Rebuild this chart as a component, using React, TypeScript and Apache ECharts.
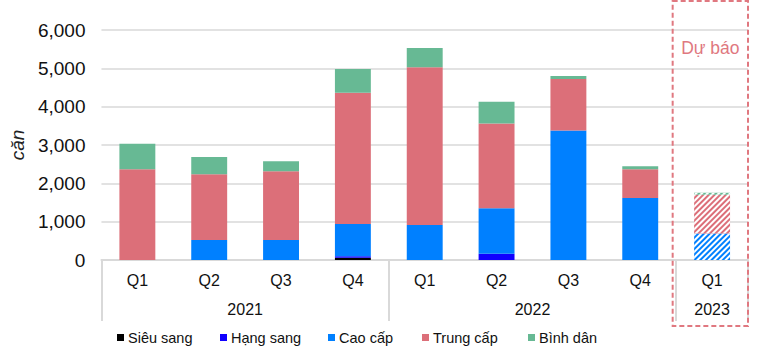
import React, { useEffect, useRef } from "react";
import * as echarts from "echarts";

const quarters = ["Q1", "Q2", "Q3", "Q4", "Q1", "Q2", "Q3", "Q4", "Q1"];
const years = ["2021", "2022", "2023"];
const yearSpans = [4, 4, 1];
const forecastIndex = 8;
const forecastLabel = "Dự báo";
const yTicks = [0, 1000, 2000, 3000, 4000, 5000, 6000];

const seriesNames = ["Siêu sang", "Hạng sang", "Cao cấp", "Trung cấp", "Bình dân"];
const sieuSang = [0, 0, 0, 60, 0, 0, 0, 0, 0];
const hangSang = [0, 0, 0, 35, 0, 160, 0, 0, 0];
const caoCap = [0, 520, 520, 845, 910, 1190, 3380, 1620, 690];
const trungCap = [2370, 1715, 1795, 3425, 4120, 2210, 1340, 745, 1015];
const binhDan = [665, 450, 260, 620, 500, 570, 80, 80, 50];

const seriesColors = ["#000000", "#1000ff", "#0080ff", "#dc6f79", "#67b994"];
const legendLefts = [117, 220, 328, 422, 528];

const FONT = "'Liberation Sans', Arial, sans-serif";
const W = 768;
const H = 353;
const GRID_LEFT = 97;
const GRID_RIGHT = 20;
const GRID_TOP = 30;
const GRID_BOTTOM = 93;

export default function App() {
  const ref = useRef<HTMLDivElement>(null);

  useEffect(() => {
    if (!ref.current) return;
    const chart = echarts.init(ref.current, undefined, { renderer: "svg" });
    const allData = [sieuSang, hangSang, caoCap, trungCap, binhDan];

    const bounds: number[] = [0];
    const centers: number[] = [];
    yearSpans.forEach((s) => {
      const start = bounds[bounds.length - 1];
      centers.push(start + s / 2);
      bounds.push(start + s);
    });

    const plotW = W - GRID_LEFT - GRID_RIGHT;
    const band = plotW / quarters.length;
    const boxX = GRID_LEFT + forecastIndex * band - 3;
    const boxW = band + 3;

    const series = allData.map((arr, si) => ({
      name: seriesNames[si],
      type: "bar",
      stack: "total",
      barWidth: "50%",
      itemStyle: { color: seriesColors[si] },
      emphasis: { disabled: true },
      data: arr.map((v, i) =>
        i === forecastIndex
          ? {
              value: v,
              itemStyle: {
                color: seriesColors[si],
                decal: {
                  symbol: "rect",
                  symbolSize: 1,
                  dashArrayX: [1, 0],
                  dashArrayY: [1.5, 2],
                  rotation: -Math.PI / 4,
                  color: "#ffffff",
                },
              },
            }
          : v
      ),
    }));

    chart.setOption({
      animation: false,
      textStyle: { fontFamily: FONT },
      grid: { left: GRID_LEFT, right: GRID_RIGHT, top: GRID_TOP, bottom: GRID_BOTTOM, containLabel: false },
      legend: seriesNames.map((n, i) => ({
        data: [n],
        left: legendLefts[i],
        top: 330,
        padding: 0,
        itemWidth: 7,
        itemHeight: 7,
        icon: "rect",
        selectedMode: false,
        textStyle: { fontSize: 14.5, color: "#111", fontFamily: FONT, padding: [0, 0, 0, -1] },
      })),
      xAxis: [
        {
          type: "category",
          data: quarters,
          position: "bottom",
          axisLine: { show: true, lineStyle: { color: "#d9d9d9", width: 2 } },
          axisTick: { show: false },
          axisLabel: { fontSize: 16, color: "#111", margin: 12, fontFamily: FONT, interval: 0 },
          splitLine: { show: false },
        },
        {
          type: "value",
          min: 0,
          max: quarters.length,
          position: "bottom",
          axisLine: { show: false },
          splitLine: { show: false },
          axisTick: {
            show: true,
            customValues: bounds,
            length: 61,
            lineStyle: { color: "#d9d9d9", width: 2 },
          },
          axisLabel: {
            customValues: centers,
            fontSize: 16,
            color: "#111",
            margin: 41,
            fontFamily: FONT,
            formatter: (v: number) => {
              const idx = centers.findIndex((c) => Math.abs(c - v) < 1e-6);
              return idx >= 0 ? years[idx] : "";
            },
          },
        },
      ],
      yAxis: {
        type: "value",
        min: yTicks[0],
        max: yTicks[yTicks.length - 1],
        interval: yTicks[1] - yTicks[0],
        name: "căn",
        nameLocation: "middle",
        nameRotate: 90,
        nameGap: 73,
        nameTextStyle: { fontSize: 19, fontStyle: "italic", color: "#222", fontFamily: FONT },
        axisLine: { show: false },
        axisTick: { show: false },
        axisLabel: {
          fontSize: 19,
          color: "#111",
          margin: 16,
          fontFamily: FONT,
          formatter: (v: number) => v.toLocaleString("en-US"),
        },
        splitLine: { show: true, lineStyle: { color: "#d9d9d9", width: 1.5 } },
      },
      graphic: [
        {
          type: "rect",
          shape: { x: boxX, y: 1, width: boxW, height: 325 },
          style: { fill: "none", stroke: "#e07880", lineWidth: 2, lineDash: [5, 3] },
          z: 100,
          silent: true,
        },
        {
          type: "text",
          x: boxX + boxW / 2,
          y: 48,
          style: {
            text: forecastLabel,
            fill: "#e07880",
            fontSize: 17.5,
            fontFamily: FONT,
            align: "center",
            verticalAlign: "middle",
          },
          z: 100,
          silent: true,
        },
      ],
      series,
    });

    return () => chart.dispose();
  }, []);

  return (
    <div
      ref={ref}
      style={{ position: "fixed", left: 0, top: 0, width: W, height: H, background: "#fff" }}
    />
  );
}
